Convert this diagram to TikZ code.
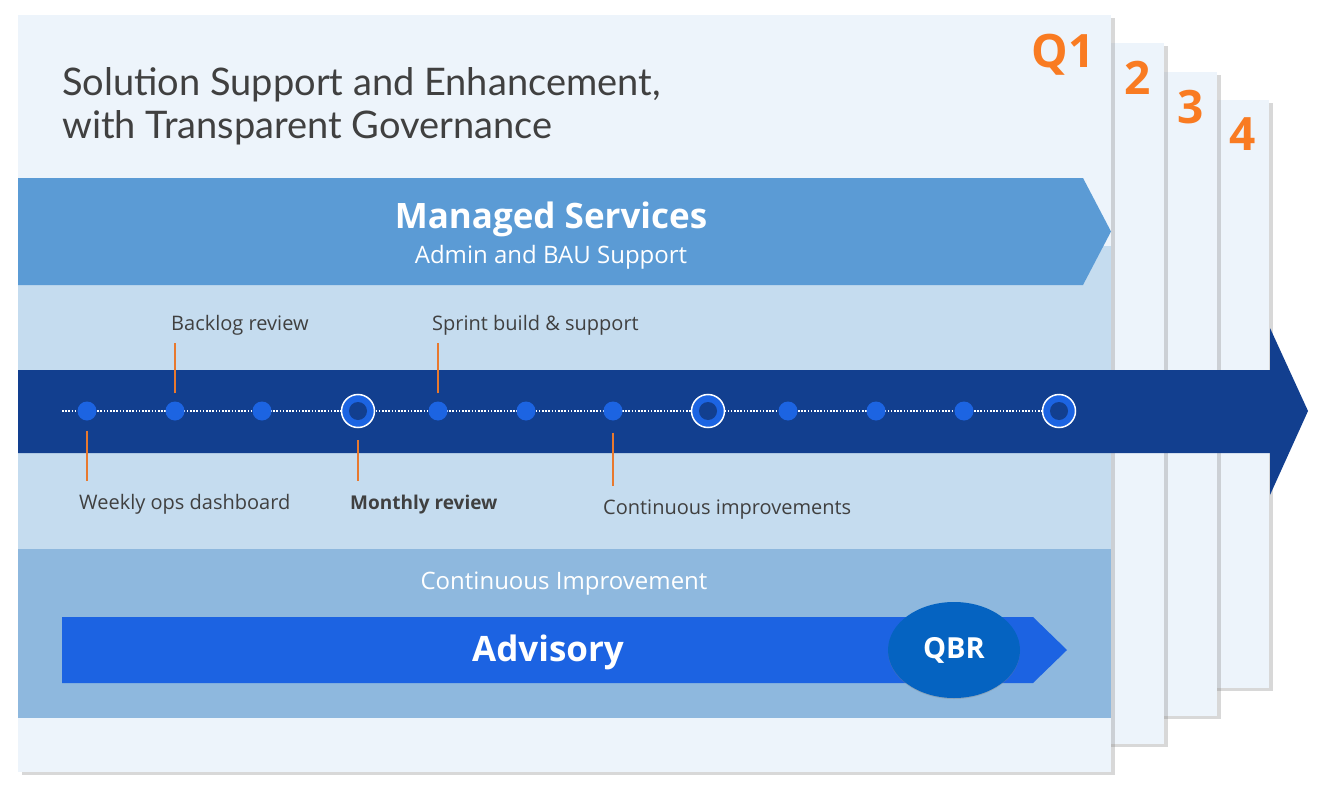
\documentclass[tikz,border=0pt]{standalone}
\usepackage{fontspec}
\setmainfont{Open Sans}
\newfontfamily\titlefont{Lato}
\usetikzlibrary{shadows,shapes.geometric,positioning}
\definecolor{cardbg}{HTML}{EDF4FB}
\definecolor{managed}{HTML}{5B9BD5}
\definecolor{midband}{HTML}{C5DCEF}
\definecolor{lowband}{HTML}{8EB8DE}
\definecolor{navy}{HTML}{123F8F}
\definecolor{dotblue}{HTML}{1C64E2}
\definecolor{advblue}{HTML}{1C63E2}
\definecolor{qbrblue}{HTML}{0563C1}
\definecolor{qorange}{HTML}{F97B22}
\definecolor{leadorange}{HTML}{E8792E}
\definecolor{ink}{HTML}{404040}
\tikzset{
  card/.style={fill=cardbg, drop shadow={shadow xshift=4pt, shadow yshift=-3pt, opacity=.3}},
  qnum/.style={anchor=base, text=qorange, font=\bfseries\fontsize{46}{46}\selectfont},
  tick/.style={circle, fill=dotblue, inner sep=0pt, minimum size=19pt},
  milestone/.style={circle, fill=dotblue, draw=white, line width=1.5pt, inner sep=0pt, minimum size=33pt},
  lbl/.style={anchor=base west, inner sep=0pt, text=ink, font=\fontsize{20}{20}\selectfont},
  leader/.style={leadorange, line width=1.1pt},
  track/.style={white, line width=1.6pt, dash pattern=on 1.6pt off 1.6pt},
  whitetxt/.style={text=white, inner sep=0pt}
}
\begin{document}
\begin{tikzpicture}[x=1pt,y=-1pt]
  \useasboundingbox[fill=white] (0,0) rectangle (1318,792);
  % stacked quarter cards, back to front
  \path[card] (1050,100) rectangle (1269,688);
  \path[card] (1050,72) rectangle (1217,716);
  \path[card] (1050,43) rectangle (1164,744);
  \path[card] (18,15) rectangle (1111,772);
  \node[qnum] (q4) at (1243,150) {4};
  \node[qnum] (q3) at (1191,123) {3};
  \node[qnum] (q2) at (1138,95) {2};
  \node[qnum, anchor=base east] (q1) at (1098,67) {Q1};
  % title
  \node[anchor=base west, inner sep=0pt, text=ink, align=left,
        font=\titlefont\fontsize{38}{43}\selectfont] (title) at (62,138)
        {Solution Support and Enhancement,\\with Transparent Governance};
  % bands
  \fill[midband] (18,246) rectangle (1111,549);
  \fill[managed] (18,178) -- (1083,178) -- (1111,231.5) -- (1083,285) -- (18,285) -- cycle;
  \node[whitetxt, font=\bfseries\fontsize{35}{35}\selectfont] (ms) at (551,219) {Managed Services};
  \node[whitetxt, font=\fontsize{24}{24}\selectfont, below=8pt of ms] (bau) {Admin and BAU Support};
  \fill[navy] (18,370) -- (1270,370) -- (1270,328) -- (1308,411) -- (1270,495) -- (1270,453) -- (18,453) -- cycle;
  % timeline
  \coordinate (trackstart) at (62,411);
  \coordinate (trackend) at (1059,411);
  \draw[track] (trackstart) -- (trackend);
  \foreach \x/\n in {87/d1,175/d2,262/d3,438/d5,526/d6,613/d7,788/d9,876/d10,964/d11}
    \node[tick] (\n) at (\x,411) {};
  \foreach \x/\n in {358/d4,708/d8,1059/d12}
  {
    \node[milestone] (\n) at (\x,411) {};
    \fill[navy] (\n) circle (9);
  }
  \node[lbl] (backlog) at (171,330) {Backlog review};
  \node[lbl] (sprint) at (432,330) {Sprint build \& support};
  \node[lbl] (weekly) at (79,509) {Weekly ops dashboard};
  \node[lbl, font=\bfseries\fontsize{19}{19}\selectfont] (monthly) at (350,509) {Monthly review};
  \node[lbl] (contimp) at (603,514) {Continuous improvements};
  \draw[leader] ([yshift=8pt]d2.north) -- ([yshift=-8pt]backlog.south -| d2);
  \draw[leader] ([yshift=8pt]d5.north) -- ([yshift=-8pt]sprint.south -| d5);
  \draw[leader] ([yshift=-10pt]d1.south) -- ([yshift=13pt]weekly.north -| d1);
  \draw[leader] ([yshift=-12pt]d4.south) -- ([yshift=13pt]monthly.north -| d4);
  \draw[leader] ([yshift=-12pt]d7.south) -- ([yshift=13pt]contimp.north -| d7);
  % advisory
  \fill[lowband] (18,549) rectangle (1111,718);
  \node[whitetxt, font=\fontsize{24}{24}\selectfont] (ci) at (564,584) {Continuous Improvement};
  \fill[advblue] (62,617) -- (1033,617) -- (1067,650) -- (1033,683) -- (62,683) -- cycle;
  \node[whitetxt, font=\bfseries\fontsize{35}{35}\selectfont] (adv) at (548,652) {Advisory};
  \node[ellipse, fill=qbrblue, minimum width=132pt, minimum height=96pt, text=white,
        font=\bfseries\fontsize{29}{29}\selectfont,
        drop shadow={shadow xshift=0pt, shadow yshift=-1pt, opacity=.35}] (qbr) at (954,650) {QBR};
\end{tikzpicture}
\end{document}
